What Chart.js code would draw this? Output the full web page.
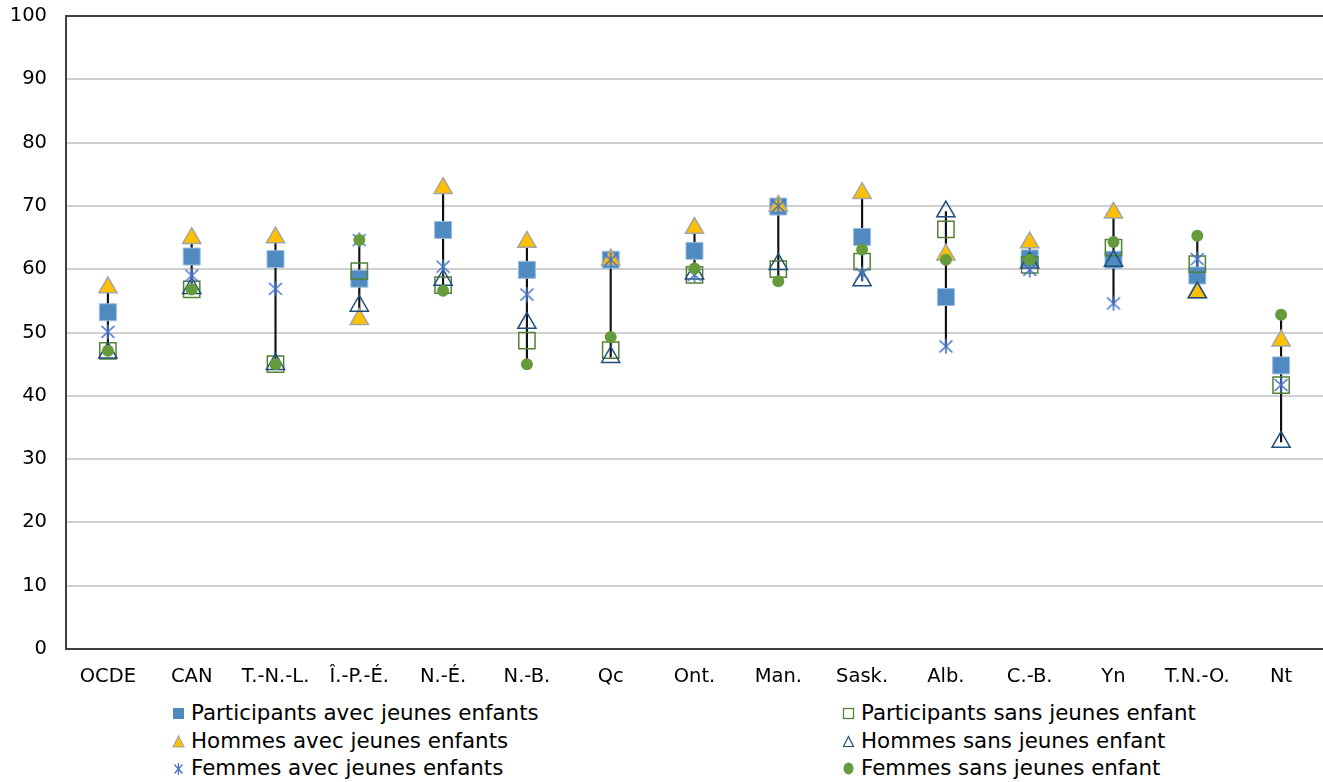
<!DOCTYPE html>
<html lang="fr">
<head>
<meta charset="utf-8">
<script src="https://cdn.jsdelivr.net/npm/chart.js@4.4.1/dist/chart.umd.min.js"></script>
<style>
  html, body { margin: 0; padding: 0; background: #fff; }
  body { width: 1323px; height: 782px; position: relative; overflow: hidden; font-family: "DejaVu Sans", Verdana, sans-serif; }
  #wrap { position: absolute; left: 0; top: 0; width: 1323px; height: 690px; }
  .leg { position: absolute; font-size: 21.4px; color: #000; white-space: nowrap; line-height: 24px; }
  .leg svg { position: absolute; top: 6px; }
  .leg span { position: absolute; left: 19px; top: 0; }
</style>
</head>
<body>
<div id="wrap"><canvas id="chart" width="1323" height="690"></canvas></div>
<div id="legend"></div>
<script>
const categories = ["OCDE", "CAN", "T.-N.-L.", "Î.-P.-É.", "N.-É.", "N.-B.", "Qc", "Ont.", "Man.", "Sask.", "Alb.", "C.-B.", "Yn", "T.N.-O.", "Nt"];

const participantsAvec = [53.2, 62.0, 61.6, 58.5, 66.2, 59.9, 61.5, 62.9, 69.9, 65.1, 55.6, 61.7, 61.5, 59.0, 44.8];
const participantsSans = [47.1, 56.8, 45.0, 59.7, 57.5, 48.7, 47.2, 59.1, 60.0, 61.2, 66.3, 60.7, 63.4, 60.8, 41.7];
const hommesAvec = [57.1, 64.9, 65.0, 52.1, 72.8, 64.3, 61.5, 66.5, 70.0, 72.0, 62.3, 64.2, 68.9, 56.3, 48.7];
const hommesSans = [46.8, 57.0, 45.0, 54.2, 58.3, 51.5, 46.1, 59.3, 60.8, 58.2, 69.1, 61.0, 61.3, 56.3, 32.7];
const femmesAvec = [50.1, 59.0, 56.9, 64.6, 60.4, 56.0, 61.5, 59.1, 70.0, 59.3, 47.8, 59.9, 54.6, 61.6, 41.7];
const femmesSans = [47.1, 56.8, 45.0, 64.6, 56.6, 45.0, 49.3, 60.1, 58.1, 63.1, 61.5, 61.5, 64.3, 65.3, 52.8];

const yTicks = [0, 10, 20, 30, 40, 50, 60, 70, 80, 90, 100];

// high-low line per category, from the six series
const allSeries = [participantsAvec, participantsSans, hommesAvec, hommesSans, femmesAvec, femmesSans];
const ranges = categories.map((c, i) => {
  const v = allSeries.map(s => s[i]);
  return [Math.min(...v), Math.max(...v)];
});

// star marker like Excel's (x with a vertical bar)
function starMarker(color) {
  const c = document.createElement("canvas");
  c.width = 16; c.height = 16;
  const g = c.getContext("2d");
  g.strokeStyle = color;
  g.lineWidth = 1.6;
  g.beginPath();
  g.moveTo(1.5, 2); g.lineTo(14.5, 14);
  g.moveTo(14.5, 2); g.lineTo(1.5, 14);
  g.moveTo(8, 0.5); g.lineTo(8, 15.5);
  g.stroke();
  return c;
}

function markers(label, data, style, order) {
  return Object.assign({
    type: "line",
    label: label,
    data: data,
    showLine: false,
    order: order
  }, style);
}

const series = [
  markers("Participants avec jeunes enfants", participantsAvec,
    { pointStyle: "rect", pointRadius: 12, pointBackgroundColor: "#4F8BC1", pointBorderColor: "#9DBDDD", pointBorderWidth: 1 }, 6),
  markers("Participants sans jeunes enfant", participantsSans,
    { pointStyle: "rect", pointRadius: 11.5, pointBackgroundColor: "rgba(0,0,0,0)", pointBorderColor: "#538135", pointBorderWidth: 1.5 }, 5),
  markers("Hommes avec jeunes enfants", hommesAvec,
    { pointStyle: "triangle", pointRadius: 10.5, pointBackgroundColor: "#FFC000", pointBorderColor: "#A5A5A5", pointBorderWidth: 1.5 }, 4),
  markers("Hommes sans jeunes enfant", hommesSans,
    { pointStyle: "triangle", pointRadius: 10.5, pointBackgroundColor: "rgba(0,0,0,0)", pointBorderColor: "#1F4E79", pointBorderWidth: 1.5 }, 3),
  markers("Femmes avec jeunes enfants", femmesAvec,
    { pointStyle: starMarker("#4472C4"), pointRadius: 8 }, 2),
  markers("Femmes sans jeunes enfant", femmesSans,
    { pointStyle: "circle", pointRadius: 6, pointBackgroundColor: "#659B3B", pointBorderColor: "#659B3B", pointBorderWidth: 0 }, 1)
];

const frameTop = {
  id: "frameTop",
  afterDraw(chart) {
    const a = chart.chartArea, g = chart.ctx;
    g.save();
    g.strokeStyle = "#404040";
    g.lineWidth = 2;
    g.beginPath();
    g.moveTo(a.left - 1, a.top);
    g.lineTo(a.right, a.top);
    g.stroke();
    g.restore();
  }
};

const ctx = document.getElementById("chart").getContext("2d");
const chart = new Chart(ctx, {
  data: {
    labels: categories,
    datasets: [{
      type: "bar",
      label: "haut-bas",
      data: ranges,
      backgroundColor: "#111",
      borderWidth: 0,
      barThickness: 1.5,
      order: 10
    }].concat(series)
  },
  options: {
    responsive: false,
    animation: false,
    events: [],
    layout: { autoPadding: false, padding: { top: 16, right: 0, left: 0, bottom: 0 } },
    scales: {
      x: {
        offset: true,
        grid: { display: false, drawTicks: false },
        border: { color: "#404040", width: 2 },
        ticks: {
          color: "#000",
          padding: 16,
          maxRotation: 0,
          autoSkip: false,
          font: { family: "DejaVu Sans", size: 19.5 }
        },
        afterFit: s => { s.height = 41; s.paddingLeft = 0; s.paddingRight = 0; }
      },
      y: {
        min: 0,
        max: 100,
        afterBuildTicks: s => { s.ticks = yTicks.map(v => ({ value: v })); },
        grid: { color: "#D0D0D0", lineWidth: 2, drawTicks: false },
        border: { color: "#404040", width: 2 },
        ticks: {
          color: "#000",
          padding: 19,
          font: { family: "DejaVu Sans", size: 19.5 }
        },
        afterFit: s => { s.width = 66; s.paddingTop = 0; s.paddingBottom = 0; }
      }
    },
    plugins: {
      legend: { display: false },
      tooltip: { enabled: false }
    }
  },
  plugins: [frameTop]
});

// legend in two columns, same order as the source
const legendItems = [
  { text: "Participants avec jeunes enfants", x: 172, y: 701, svg: '<rect x="1" y="1" width="11" height="11" fill="#4F8BC1"/>' },
  { text: "Participants sans jeunes enfant", x: 842, y: 701, svg: '<rect x="1.5" y="1.5" width="10" height="10" fill="none" stroke="#538135" stroke-width="1.3"/>' },
  { text: "Hommes avec jeunes enfants", x: 172, y: 729, svg: '<polygon points="6.5,1 12,12 1,12" fill="#FFC000" stroke="#A5A5A5" stroke-width="1.2"/>' },
  { text: "Hommes sans jeunes enfant", x: 842, y: 729, svg: '<polygon points="6.5,1.5 11.5,11.5 1.5,11.5" fill="none" stroke="#1F4E79" stroke-width="1.2"/>' },
  { text: "Femmes avec jeunes enfants", x: 172, y: 756, svg: '<path d="M2.5 2.5 L10.5 11.5 M10.5 2.5 L2.5 11.5 M6.5 1 L6.5 13" stroke="#4472C4" stroke-width="1.3" fill="none"/>' },
  { text: "Femmes sans jeunes enfant", x: 842, y: 756, svg: '<ellipse cx="6.5" cy="6.5" rx="5" ry="6" fill="#659B3B"/>' }
];
const legendEl = document.getElementById("legend");
legendItems.forEach(it => {
  const d = document.createElement("div");
  d.className = "leg";
  d.style.left = it.x + "px";
  d.style.top = it.y + "px";
  d.innerHTML = '<svg width="13" height="13" viewBox="0 0 13 13">' + it.svg + '</svg><span>' + it.text + '</span>';
  legendEl.appendChild(d);
});
</script>
</body>
</html>
